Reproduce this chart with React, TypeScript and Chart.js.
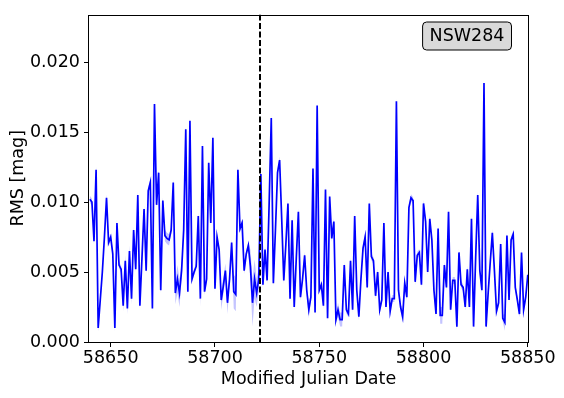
import React, { useEffect, useRef } from 'react';
import { Chart, registerables } from 'chart.js';

Chart.register(...registerables);

// Daily RMS measurements, first night MJD 58640
const mjdStart = 58640;
const rmsValues = [
  0.0102, 0.0100, 0.0072, 0.0123, 0.0010, 0.0030, 0.0050, 0.0075, 0.0103, 0.0071,
  0.0075, 0.0063, 0.0010, 0.0085, 0.0055, 0.0052, 0.0026, 0.0058, 0.0024, 0.0065,
  0.0031, 0.0080, 0.0052, 0.0105, 0.0026, 0.0060, 0.0095, 0.0051, 0.0108, 0.0114,
  0.0024, 0.0170, 0.0098, 0.0121, 0.0037, 0.0101, 0.0076, 0.0074, 0.0073, 0.0080,
  0.0114, 0.0035, 0.0045, 0.0035, 0.0051, 0.0080, 0.0152, 0.0036, 0.0158, 0.0045,
  0.0050, 0.0054, 0.0090, 0.0031, 0.0140, 0.0036, 0.0045, 0.0128, 0.0085, 0.0146,
  0.0038, 0.0075, 0.0066, 0.0030, 0.0040, 0.0051, 0.0028, 0.0045, 0.0071, 0.0036,
  0.0034, 0.0123, 0.0081, 0.0085, 0.0051, 0.0063, 0.0069, 0.0054, 0.0028, 0.0045,
  0.0035, 0.0045, 0.0120, 0.0041, 0.0066, 0.0044, 0.0100, 0.0160, 0.0042, 0.0080,
  0.0121, 0.0130, 0.0088, 0.0044, 0.0070, 0.0099, 0.0031, 0.0087, 0.0025, 0.0060,
  0.0093, 0.0032, 0.0045, 0.0062, 0.0037, 0.0023, 0.0032, 0.0124, 0.0021, 0.0169,
  0.0037, 0.0041, 0.0026, 0.0109, 0.0017, 0.0104, 0.0074, 0.0086, 0.0016, 0.0023,
  0.0016, 0.0016, 0.0055, 0.0023, 0.0020, 0.0058, 0.0023, 0.0090, 0.0037, 0.0018,
  0.0045, 0.0067, 0.0075, 0.0039, 0.0099, 0.0061, 0.0058, 0.0033, 0.0050, 0.0023,
  0.0030, 0.0085, 0.0025, 0.0050, 0.0022, 0.0031, 0.0031, 0.0172, 0.0037, 0.0025,
  0.0018, 0.0042, 0.0032, 0.0096, 0.0103, 0.0101, 0.0043, 0.0062, 0.0064, 0.0041,
  0.0099, 0.0086, 0.0050, 0.0088, 0.0073, 0.0037, 0.0020, 0.0081, 0.0019, 0.0019,
  0.0055, 0.0039, 0.0093, 0.0023, 0.0044, 0.0044, 0.0011, 0.0064, 0.0041, 0.0039,
  0.0025, 0.0052, 0.0025, 0.0088, 0.0011, 0.0060, 0.0105, 0.0051, 0.0037, 0.0185,
  0.0011, 0.0035, 0.0057, 0.0078, 0.0051, 0.0022, 0.0028, 0.0070, 0.0017, 0.0014,
  0.0076, 0.0030, 0.0073, 0.0077, 0.0039, 0.0030, 0.0020, 0.0064, 0.0023, 0.0032,
  0.0048,
];

// Uncertainty band: typical half-width, plus nights where it is wider [index, half-width]
const errBase = 0.00025;
const errWide: [number, number][] = [
  [16, 0.0004], [17, 0.0004], [18, 0.0004], [19, 0.0004], [20, 0.0004],
  [36, 0.0004], [37, 0.0004], [38, 0.0004],
  [41, 0.0008], [42, 0.0010], [43, 0.0010], [44, 0.0006], [53, 0.0006],
  [63, 0.0007], [64, 0.0006], [65, 0.0005], [66, 0.0008],
  [69, 0.0012], [70, 0.0012],
  [77, 0.0012], [78, 0.0017], [79, 0.0014], [80, 0.0010], [81, 0.0008],
  [105, 0.0006], [119, 0.0005], [120, 0.0005], [121, 0.0005],
  [144, 0.0004], [150, 0.0005], [168, 0.0006], [169, 0.0006], [199, 0.0006],
];

const dividerMJD = 58721.5;
const xRange = [58639.6, 58850.1];
const yRange = [0, 0.0234];
const xTickStep = 50;
const yTickStep = 0.005;
const starName = 'NSW284';
const xTitle = 'Modified Julian Date';
const yTitle = 'RMS [mag]';

const FONT = "'DejaVu Sans', sans-serif";

export default function App() {
  const ref = useRef<HTMLCanvasElement>(null);

  useEffect(() => {
    document.body.style.margin = '0';
    const canvas = ref.current;
    if (!canvas) return;

    const errs = rmsValues.map(() => errBase);
    errWide.forEach(([i, e]) => { errs[i] = e; });
    const line = rmsValues.map((v, i) => ({ x: mjdStart + i, y: v }));
    const upper = rmsValues.map((v, i) => ({ x: mjdStart + i, y: v + errs[i] }));
    const lower = rmsValues.map((v, i) => ({ x: mjdStart + i, y: Math.max(0, v - errs[i]) }));

    const overlay = {
      id: 'overlay',
      afterDatasetsDraw(chart: any) {
        const { ctx, chartArea: a, scales } = chart;
        const px = Math.round(scales.x.getPixelForValue(dividerMJD));
        ctx.save();
        ctx.beginPath();
        ctx.rect(a.left, a.top, a.right - a.left, a.bottom - a.top);
        ctx.clip();
        ctx.strokeStyle = '#000';
        ctx.lineWidth = 2;
        ctx.setLineDash([6, 2.5]);
        ctx.beginPath();
        ctx.moveTo(px, a.top);
        ctx.lineTo(px, a.bottom);
        ctx.stroke();
        ctx.restore();
      },
      afterDraw(chart: any) {
        const { ctx, chartArea: a } = chart;
        ctx.save();
        // frame
        ctx.strokeStyle = '#000';
        ctx.lineWidth = 1;
        ctx.setLineDash([]);
        ctx.strokeRect(Math.round(a.left) - 0.5, Math.round(a.top) + 0.5,
          Math.round(a.right - a.left) + 1, Math.round(a.bottom - a.top) - 1);
        // label box
        ctx.font = `17.5px ${FONT}`;
        const tw = ctx.measureText(starName).width;
        const bw = tw + 14;
        const bh = 28;
        const bx = a.right - 17 - bw;
        const by = a.top + 7;
        ctx.beginPath();
        ctx.roundRect(bx + 0.5, by + 0.5, bw, bh, 4);
        ctx.fillStyle = '#d9d9d9';
        ctx.fill();
        ctx.strokeStyle = '#000';
        ctx.stroke();
        ctx.fillStyle = '#000';
        ctx.textAlign = 'center';
        ctx.textBaseline = 'middle';
        ctx.fillText(starName, bx + bw / 2 + 0.5, by + bh / 2 + 1);
        ctx.restore();
      },
    };

    const chart = new Chart(canvas, {
      type: 'line',
      data: {
        datasets: [
          {
            data: line,
            borderColor: '#0000ff',
            borderWidth: 1.7,
            pointRadius: 0,
            tension: 0,
            fill: false,
          },
          {
            data: upper,
            borderColor: 'rgba(0,0,0,0)',
            borderWidth: 0,
            pointRadius: 0,
            fill: false,
          },
          {
            data: lower,
            borderColor: 'rgba(0,0,0,0)',
            borderWidth: 0,
            pointRadius: 0,
            backgroundColor: 'rgba(60,60,255,0.3)',
            fill: 1,
          },
        ],
      },
      options: {
        animation: false,
        responsive: false,
        devicePixelRatio: 1,
        layout: { padding: { top: 13, right: 36, left: 0, bottom: 0 } },
        plugins: {
          legend: { display: false },
          tooltip: { enabled: false },
        },
        scales: {
          x: {
            type: 'linear',
            min: xRange[0],
            max: xRange[1],
            afterFit: (s: any) => { s.height = 56; },
            border: { display: false },
            grid: { display: true, drawOnChartArea: false, drawTicks: true, tickLength: 5, tickColor: '#000', tickWidth: 1 },
            ticks: {
              stepSize: xTickStep,
              includeBounds: false,
              maxRotation: 0,
              autoSkip: false,
              color: '#000',
              padding: 1,
              font: { family: FONT, size: 17.5 },
              callback: (v: any) => String(v),
            },
            title: {
              display: true,
              text: xTitle,
              color: '#000',
              font: { family: FONT, size: 17.5 },
              padding: { top: 0, bottom: 8 },
            },
          },
          y: {
            type: 'linear',
            min: yRange[0],
            max: yRange[1],
            afterFit: (s: any) => { s.width = 89; },
            border: { display: false },
            grid: { display: true, drawOnChartArea: false, drawTicks: true, tickLength: 5, tickColor: '#000', tickWidth: 1 },
            ticks: {
              stepSize: yTickStep,
              includeBounds: false,
              autoSkip: false,
              color: '#000',
              padding: 4,
              font: { family: FONT, size: 17.5 },
              callback: (v: any) => Number(v).toFixed(3),
            },
            title: {
              display: true,
              text: yTitle,
              color: '#000',
              font: { family: FONT, size: 17.5 },
              padding: { top: 8, bottom: 0 },
            },
          },
        },
      },
      plugins: [overlay],
    });

    return () => chart.destroy();
  }, []);

  return (
    <canvas
      ref={ref}
      width={564}
      height={398}
      style={{ display: 'block', position: 'fixed', left: 0, top: 0, width: 564, height: 398 }}
    />
  );
}
